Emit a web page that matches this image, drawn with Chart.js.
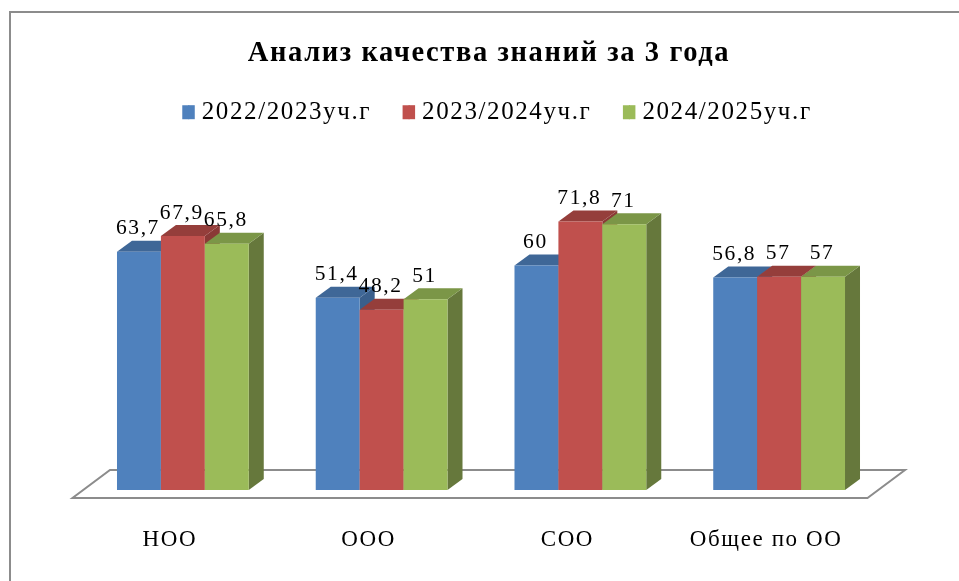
<!DOCTYPE html>
<html>
<head>
<meta charset="utf-8">
<script src="https://cdn.jsdelivr.net/npm/chart.js@4"></script>
<style>
  html, body { margin: 0; padding: 0; background: #fff; overflow: hidden; }
  #wrap { position: relative; width: 959px; height: 581px; }
  /* the original is a slightly soft scan */
  #chart { position: absolute; left: 0; top: 0; filter: blur(0.45px); }
</style>
</head>
<body>
<div id="wrap"><canvas id="chart" width="959" height="581"></canvas></div>
<script>
const titleText = "Анализ качества знаний за 3 года";
const categories = ["НОО", "ООО", "СОО", "Общее по ОО"];
const seriesNames = ["2022/2023уч.г", "2023/2024уч.г", "2024/2025уч.г"];
const values2022 = [63.7, 51.4, 60, 56.8];
const values2023 = [67.9, 48.2, 71.8, 57];
const values2024 = [65.8, 51, 71, 57];

const fronts = ["#4f81bd", "#c0504d", "#9bbb59"];
const tops = ["#3f6797", "#953e3b", "#7b9647"];
const sides = ["#3a5f8c", "#8a3936", "#66783c"];
const FONT = "'Liberation Serif', serif";
const DX = 15, DY = -11;

function poly(ctx, pts, fill) {
  ctx.fillStyle = fill;
  ctx.beginPath();
  pts.forEach((p, i) => (i ? ctx.lineTo(p[0], p[1]) : ctx.moveTo(p[0], p[1])));
  ctx.closePath();
  ctx.fill();
}

// chart.js has no 3d bars any more, so the depth is painted around its own bar elements
const bars3d = {
  id: "bars3d",
  beforeLayout(chart) {
    chart.ctx.letterSpacing = "1.6px";
  },
  afterLayout(chart) {
    // title and legend sit off the plot centre in the original
    chart.titleBlock.left += 8;
    chart.titleBlock.right += 8;
    chart.legend.left += 16;
    chart.legend.right += 16;
    chart.legend.top -= 56;
    chart.legend.bottom -= 56;
  },
  beforeDatasetsDraw(chart) {
    const ctx = chart.ctx;
    const area = chart.chartArea;
    const base = chart.scales.y.getPixelForValue(0);

    // floor
    ctx.save();
    ctx.strokeStyle = "#8c8c8c";
    ctx.lineWidth = 2;
    ctx.beginPath();
    ctx.moveTo(area.left - 11, base + 8);
    ctx.lineTo(area.right - 11, base + 8);
    ctx.lineTo(area.right + 26.5, base - 20);
    ctx.lineTo(area.left + 26.5, base - 20);
    ctx.closePath();
    ctx.stroke();
    ctx.restore();

    // blue first, green last, chart.js would paint them the other way round
    chart.data.datasets.forEach((ds, i) => {
      chart.getDatasetMeta(i).data.forEach((bar) => {
        const l = bar.x - bar.width / 2;
        const r = bar.x + bar.width / 2;
        poly(ctx, [[r, bar.y], [r + DX, bar.y + DY], [r + DX, bar.base + DY], [r, bar.base]], sides[i]);
        poly(ctx, [[l, bar.y], [l + DX, bar.y + DY], [r + DX, bar.y + DY], [r, bar.y]], tops[i]);
        bar.draw(ctx, area);
      });
    });
    return false;
  },
  afterDraw(chart) {
    const ctx = chart.ctx;
    ctx.save();
    ctx.font = "21.5px " + FONT;
    ctx.fillStyle = "#000";
    ctx.textAlign = "center";
    ctx.textBaseline = "middle";
    chart.data.datasets.forEach((ds, i) => {
      chart.getDatasetMeta(i).data.forEach((bar, j) => {
        ctx.fillText(String(ds.data[j]).replace(".", ","), bar.x - 1, bar.y - 23);
      });
    });

    // legend gap is fontSize/2 and can't be set, so the box is narrow and widened here
    chart.legend.legendHitBoxes.forEach((hit, i) => {
      ctx.fillStyle = fronts[i];
      ctx.fillRect(hit.left + 6, hit.top + (hit.height - 14) / 2, 6.5, 14);
    });

    // outer frame
    ctx.strokeStyle = "#8c8c8c";
    ctx.lineWidth = 2;
    ctx.beginPath();
    ctx.moveTo(10, 581);
    ctx.lineTo(10, 12);
    ctx.lineTo(959, 12);
    ctx.stroke();
    ctx.restore();
  }
};

new Chart(document.getElementById("chart"), {
  type: "bar",
  data: {
    labels: categories,
    datasets: [values2022, values2023, values2024].map((vals, i) => ({
      label: seriesNames[i],
      data: vals,
      backgroundColor: fronts[i],
      borderWidth: 0,
      categoryPercentage: 0.663,
      barPercentage: 1
    }))
  },
  plugins: [bars3d],
  options: {
    responsive: false,
    animation: false,
    layout: { padding: { left: 83.5, right: 80.5, top: 0, bottom: 0 } },
    plugins: {
      tooltip: { enabled: false },
      title: {
        display: true,
        text: titleText,
        color: "#000",
        font: { family: FONT, size: 28.5, weight: "bold" },
        padding: { top: 37, bottom: 53 }
      },
      legend: {
        position: "top",
        labels: {
          color: "#000",
          font: { family: FONT, size: 25 },
          boxWidth: 7,
          boxHeight: 14,
          padding: 31.5
        }
      }
    },
    scales: {
      x: {
        grid: { display: false },
        border: { display: false },
        ticks: { color: "#000", font: { family: FONT, size: 23 }, padding: 28, labelOffset: -13, maxRotation: 0 },
        afterFit(scale) { scale.height = 91; }
      },
      y: { display: false, min: 0, max: 80 }
    }
  }
});
</script>
</body>
</html>
